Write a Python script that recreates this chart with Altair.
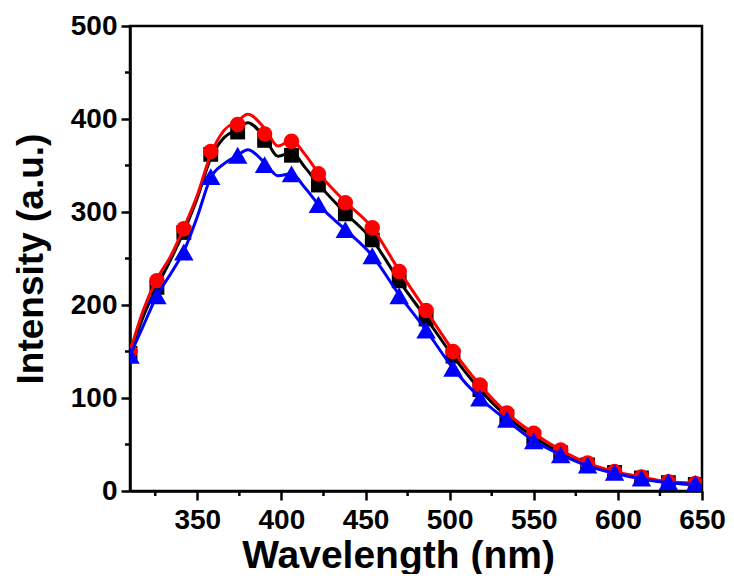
import altair as alt
import pandas as pd

# ---- data ----
marker_nm = [310, 326, 342, 358, 374, 390, 406, 422, 438, 454, 470,
             486, 502, 518, 534, 550, 566, 582, 598, 614, 630, 646]
black_pts = [148, 219, 278, 362, 386, 377, 361, 329, 298, 270, 226,
             185, 145, 109, 80, 58, 41, 28, 20, 14, 9, 7]
red_pts = [150, 226, 282, 365, 394, 384, 376, 341, 310, 283, 236,
           194, 150, 114, 84, 62, 44, 30, 21, 15, 10, 8]
blue_pts = [146, 210, 257, 338, 361, 351, 341, 308, 281, 253, 210,
            173, 132, 100, 77, 54, 39, 28, 20, 14, 10, 8]

line_nm = [310, 318, 326, 334, 342, 350, 358, 366, 374, 380, 390, 398,
           406, 414, 422, 438, 454, 470, 486, 502, 518, 534, 550, 566,
           582, 598, 614, 630, 646, 650]
black_line = [148, 188, 220, 248, 279, 315, 358, 380, 389, 396, 380, 360,
              364, 348, 330, 299, 270, 226, 186, 145, 109, 80, 58, 41,
              28, 20, 14, 9, 7, 7]
red_line = [150, 195, 228, 252, 283, 318, 362, 388, 398, 405, 390, 371,
            377, 362, 342, 311, 283, 237, 194, 151, 114, 84, 62, 44,
            30, 21, 15, 10, 8, 7]
blue_line = [146, 178, 210, 233, 258, 295, 337, 352, 361, 367, 353, 339,
             341, 326, 308, 281, 253, 211, 173, 132, 100, 76, 54, 39,
             27, 19, 13, 9, 7, 6]

x_major = [350, 400, 450, 500, 550, 600, 650]
x_minor = [325, 375, 425, 475, 525, 575, 625]
y_major = [0, 100, 200, 300, 400, 500]
y_minor = [50, 150, 250, 350, 450]

colors = {"black": "#000000", "red": "#ff0000", "blue": "#0000ff"}

W, H = 572, 465

x_enc = alt.X("nm:Q",
              scale=alt.Scale(domain=[310, 650], nice=False, zero=False),
              axis=alt.Axis(values=x_major, title="Wavelength (nm)",
                            labelFlush=False, labelPadding=6, titlePadding=2,
                            titleFontSize=39, titleX=268))
y_enc = alt.Y("v:Q",
              scale=alt.Scale(domain=[0, 500], nice=False),
              axis=alt.Axis(values=y_major, title="Intensity (a.u.)",
                            labelPadding=4, titlePadding=20,
                            titleFontSize=37))


def df(nm, vals):
    return pd.DataFrame({"nm": nm, "v": vals})


layers = []
for name, lvals, pvals, shape, size in [
    ("black", black_line, black_pts, "square", 220),
    ("red", red_line, red_pts, "circle", 240),
    ("blue", blue_line, blue_pts, "triangle-up", 380),
]:
    c = colors[name]
    layers.append(
        alt.Chart(df(line_nm, lvals)).mark_line(
            color=c, strokeWidth=3, interpolate="monotone", clip=True
        ).encode(x=x_enc, y=y_enc)
    )
    layers.append(
        alt.Chart(df(marker_nm, pvals)).mark_point(
            shape=shape, filled=True, color=c, opacity=1, size=size, clip=True
        ).encode(x=x_enc, y=y_enc)
    )

# minor ticks
ytick = alt.Chart(pd.DataFrame({"v": y_minor})).mark_rule(
    color="black", strokeWidth=2.5
).encode(y=y_enc, x=alt.value(-5), x2=alt.value(0))
xtick = alt.Chart(pd.DataFrame({"nm": x_minor})).mark_rule(
    color="black", strokeWidth=2.5
).encode(x=x_enc, y=alt.value(H), y2=alt.value(H + 5))

chart = alt.layer(*layers, ytick, xtick).properties(
    width=W, height=H,
    padding={"left": 122, "top": 18, "right": 24, "bottom": 83},
    autosize=alt.AutoSizeParams(type="none"),
).configure_view(
    stroke="black", strokeWidth=2.5
).configure_axis(
    grid=False,
    domainColor="black", domainWidth=2.5,
    tickColor="black", tickWidth=2.5, tickSize=9,
    labelFont="Liberation Sans", labelFontWeight="bold", labelFontSize=28,
    labelColor="black",
    titleFont="Liberation Sans", titleFontWeight="bold",
    titleColor="black",
)

chart.save("out.html", embed_options={"renderer": "svg", "actions": False})
